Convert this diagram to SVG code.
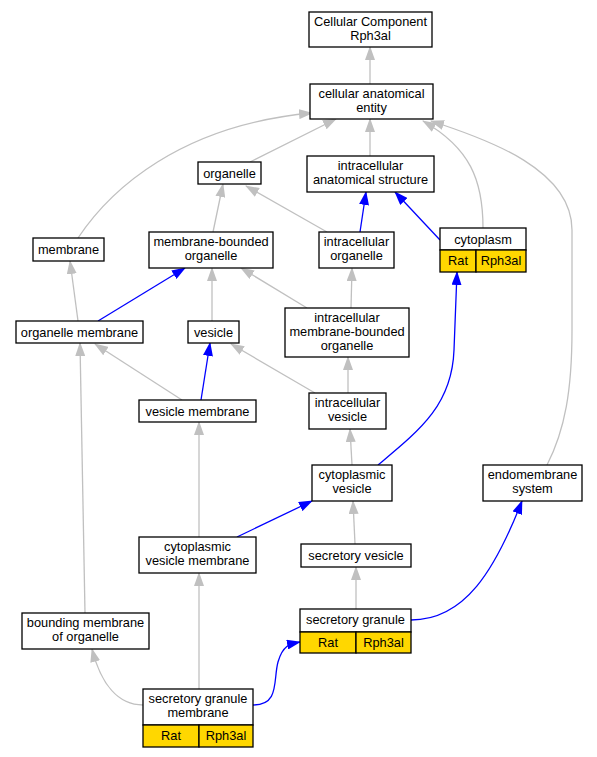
<svg xmlns="http://www.w3.org/2000/svg" width="597" height="757" viewBox="0 0 597 757">
<style>
.n rect{fill:#fff;stroke:#000;stroke-width:1.3}
.n rect.y{fill:#ffd700}
text{font-family:"Liberation Sans",Arial,sans-serif;font-size:12.8px;fill:#000;text-anchor:middle}
.g{fill:none;stroke:#c0c0c0;stroke-width:1.3}
.b{fill:none;stroke:#0000ff;stroke-width:1.3}
.g{marker-end:url(#ag)}
.b{marker-end:url(#ab)}
</style>
<defs>
<marker id="ag" viewBox="0 0 14 10" refX="13" refY="5" markerWidth="14" markerHeight="10" markerUnits="userSpaceOnUse" orient="auto"><path d="M0,0L14,5L0,10z" fill="#c0c0c0"/></marker>
<marker id="ab" viewBox="0 0 14 10" refX="13" refY="5" markerWidth="14" markerHeight="10" markerUnits="userSpaceOnUse" orient="auto"><path d="M0,0L14,5L0,10z" fill="#0000ff"/></marker>
</defs>
<rect width="597" height="757" fill="#fff"/>
<g id="edges">
<path class="g" d="M370,84L370,47"/>
<path class="g" d="M250,162L336,119"/>
<path class="g" d="M370,156L370,119"/>
<path class="g" d="M78,238C110,190 180,125 312,113"/>
<path class="g" d="M483,228C483,180 470,148 423,121"/>
<path class="g" d="M547,465C565,430 572,390 572,330L572,230C572,170 490,140 431,121"/>
<path class="g" d="M213,232L223,184"/>
<path class="g" d="M327,232L246,186"/>
<path class="g" d="M78,321L70,261"/>
<path class="g" d="M212,321L212,268"/>
<path class="g" d="M307,308L241,268"/>
<path class="g" d="M351,308L352,268"/>
<path class="g" d="M182,400L95,344"/>
<path class="g" d="M315,393L231,344"/>
<path class="g" d="M348,393L348,357"/>
<path class="g" d="M352,465L350,429"/>
<path class="g" d="M199,537L199,422"/>
<path class="g" d="M355,544L353,501"/>
<path class="g" d="M356,609L356,567"/>
<path class="g" d="M85,613L80,343"/>
<path class="g" d="M143,705C118,705 101,684 92,649"/>
<path class="g" d="M199,689L199,573"/>
<path class="b" d="M360,232L366,192"/>
<path class="b" d="M440,240L395,192"/>
<path class="b" d="M98,321L185,268"/>
<path class="b" d="M201,400L210,343"/>
<path class="b" d="M378,465C420,430 452,405 454,350L457,272"/>
<path class="b" d="M237,537L312,501"/>
<path class="b" d="M253,705C280,705 273,680 278,662C283,645 290,644 300,642"/>
<path class="b" d="M411,620C465,620 495,570 522,501"/>
</g>
<g id="n_root" class="n"><rect x="309" y="12" width="123" height="35"/><text x="370.5" y="25.5">Cellular Component</text><text x="370.5" y="39.5">Rph3al</text></g>
<g id="n_cae" class="n"><rect x="310" y="84" width="123" height="35"/><text x="371.5" y="97.5">cellular anatomical</text><text x="371.5" y="111.5">entity</text></g>
<g id="n_organelle" class="n"><rect x="198" y="162" width="63" height="22"/><text x="229.5" y="177.5">organelle</text></g>
<g id="n_ias" class="n"><rect x="307" y="156" width="127" height="36"/><text x="370.5" y="169.5">intracellular</text><text x="370.5" y="184">anatomical structure</text></g>
<g id="n_membrane" class="n"><rect x="33" y="238" width="71" height="23"/><text x="68.5" y="253.5">membrane</text></g>
<g id="n_mbo" class="n"><rect x="149" y="232" width="124" height="36"/><text x="211" y="245.5">membrane-bounded</text><text x="211" y="260">organelle</text></g>
<g id="n_io" class="n"><rect x="319" y="232" width="75" height="36"/><text x="356.5" y="245.5">intracellular</text><text x="356.5" y="260">organelle</text></g>
<g id="n_cytoplasm" class="n"><rect x="440" y="228" width="86" height="22"/><text x="483" y="243.5">cytoplasm</text><rect class="y" x="440" y="250" width="36" height="22"/><text x="458" y="265">Rat</text><rect class="y" x="476" y="250" width="50" height="22"/><text x="501" y="265">Rph3al</text></g>
<g id="n_om" class="n"><rect x="16" y="321" width="127" height="22"/><text x="79.5" y="336.5">organelle membrane</text></g>
<g id="n_vesicle" class="n"><rect x="188" y="321" width="51" height="22"/><text x="213.5" y="336.5">vesicle</text></g>
<g id="n_imbo" class="n"><rect x="285" y="308" width="124" height="49"/><text x="347" y="321.5">intracellular</text><text x="347" y="335.5">membrane-bounded</text><text x="347" y="349.5">organelle</text></g>
<g id="n_vm" class="n"><rect x="139" y="400" width="117" height="22"/><text x="197.5" y="415.5">vesicle membrane</text></g>
<g id="n_iv" class="n"><rect x="309" y="393" width="77" height="36"/><text x="347.5" y="406.5">intracellular</text><text x="347.5" y="421">vesicle</text></g>
<g id="n_cv" class="n"><rect x="312" y="465" width="80" height="36"/><text x="352" y="478.5">cytoplasmic</text><text x="352" y="493">vesicle</text></g>
<g id="n_es" class="n"><rect x="483" y="465" width="99" height="36"/><text x="532.5" y="478.5">endomembrane</text><text x="532.5" y="493">system</text></g>
<g id="n_cvm" class="n"><rect x="139" y="537" width="117" height="36"/><text x="197.5" y="550.5">cytoplasmic</text><text x="197.5" y="565">vesicle membrane</text></g>
<g id="n_sv" class="n"><rect x="301" y="544" width="110" height="23"/><text x="356" y="559.5">secretory vesicle</text></g>
<g id="n_sg" class="n"><rect x="300" y="609" width="111" height="23"/><text x="355.5" y="624">secretory granule</text><rect class="y" x="300" y="632" width="56" height="21"/><text x="328" y="646.5">Rat</text><rect class="y" x="356" y="632" width="55" height="21"/><text x="383.5" y="646.5">Rph3al</text></g>
<g id="n_bmo" class="n"><rect x="22" y="613" width="127" height="36"/><text x="85.5" y="626.5">bounding membrane</text><text x="85.5" y="641">of organelle</text></g>
<g id="n_sgm" class="n"><rect x="143" y="689" width="110" height="36"/><text x="198" y="702.5">secretory granule</text><text x="198" y="717">membrane</text><rect class="y" x="143" y="725" width="56" height="22"/><text x="171" y="740">Rat</text><rect class="y" x="199" y="725" width="54" height="22"/><text x="226" y="740">Rph3al</text></g>
</svg>
